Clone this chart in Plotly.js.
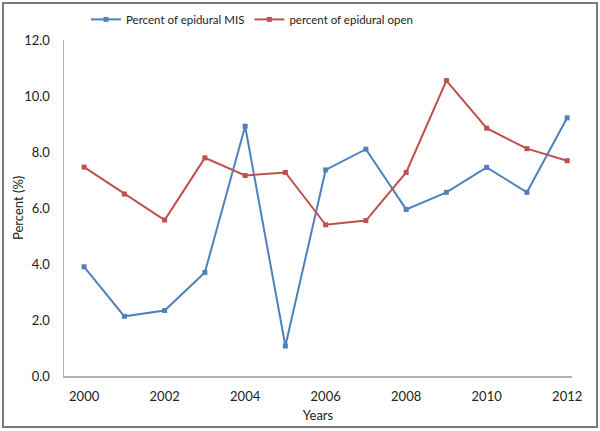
<!DOCTYPE html>
<html>
<head>
<meta charset="utf-8">
<script src="https://cdn.plot.ly/plotly-3.0.1.min.js"></script>
<style>
  html, body { margin: 0; padding: 0; background: #fff; }
  #wrap { position: relative; width: 600px; height: 431px; }
  #chart { width: 600px; height: 431px; }
  #frame { position: absolute; left: 2px; top: 2px; width: 592px; height: 422px;
           border: 2px solid #7a7a7a; pointer-events: none; }
</style>
</head>
<body>
<div id="wrap">
  <div id="chart"></div>
  <div id="frame"></div>
</div>
<script>
const years = [2000, 2001, 2002, 2003, 2004, 2005, 2006, 2007, 2008, 2009, 2010, 2011, 2012];
const misPercent = [3.9, 2.13, 2.34, 3.7, 8.92, 1.07, 7.36, 8.1, 5.95, 6.56, 7.45, 6.56, 9.22];
const openPercent = [7.46, 6.5, 5.57, 7.79, 7.16, 7.27, 5.4, 5.55, 7.27, 10.55, 8.85, 8.12, 7.69];
const tickYears = [2000, 2002, 2004, 2006, 2008, 2010, 2012];
const yTicks = [0, 2, 4, 6, 8, 10, 12];
const seriesNames = ['Percent of epidural MIS', 'percent of epidural open'];
const xTitle = 'Years';
const yTitle = 'Percent (%)';

const font = 'Lato, "Open Sans", sans-serif';

const traces = [
  {
    x: years, y: misPercent, name: seriesNames[0], type: 'scatter', mode: 'lines+markers',
    line: {color: '#4F81BD', width: 2},
    marker: {symbol: 'square', size: 5, color: '#4F81BD'}
  },
  {
    x: years, y: openPercent, name: seriesNames[1], type: 'scatter', mode: 'lines+markers',
    line: {color: '#C0504D', width: 2},
    marker: {symbol: 'square', size: 5, color: '#C0504D'}
  }
];

const layout = {
  width: 600, height: 431,
  margin: {l: 64, r: 28, t: 40, b: 55},
  paper_bgcolor: '#fff', plot_bgcolor: '#fff',
  font: {family: font, size: 13, color: '#222'},
  showlegend: true,
  legend: {
    orientation: 'h', x: 0.42, xanchor: 'center', xref: 'container',
    y: 0.955, yanchor: 'middle', yref: 'container',
    font: {family: font, size: 11.5, color: '#222'},
    itemwidth: 30, tracegroupgap: 0
  },
  xaxis: {
    range: [1999.5, 2012.12],
    tickvals: tickYears, ticktext: tickYears.map(String),
    showgrid: false, zeroline: false,
    showline: true, linecolor: '#b0b0b0', linewidth: 1.5,
    ticks: '', ticklabelstandoff: 8,
    tickfont: {family: font, size: 13, color: '#222'},
    title: {text: xTitle, font: {family: font, size: 13, color: '#222'}, standoff: 8}
  },
  yaxis: {
    range: [0, 12],
    tickvals: yTicks, ticktext: yTicks.map(v => v.toFixed(1)),
    showgrid: false, zeroline: false,
    showline: true, linecolor: '#b0b0b0', linewidth: 1.5,
    ticks: '', ticklabelstandoff: 10,
    tickfont: {family: font, size: 13, color: '#222'}
  },
  annotations: [
    {
      text: yTitle, textangle: -90, showarrow: false,
      xref: 'paper', yref: 'paper', x: -0.0906, y: 0.5,
      xanchor: 'center', yanchor: 'middle',
      font: {family: font, size: 13, color: '#222'}
    }
  ]
};

Plotly.newPlot('chart', traces, layout, {displayModeBar: false, staticPlot: true});
</script>
</body>
</html>
